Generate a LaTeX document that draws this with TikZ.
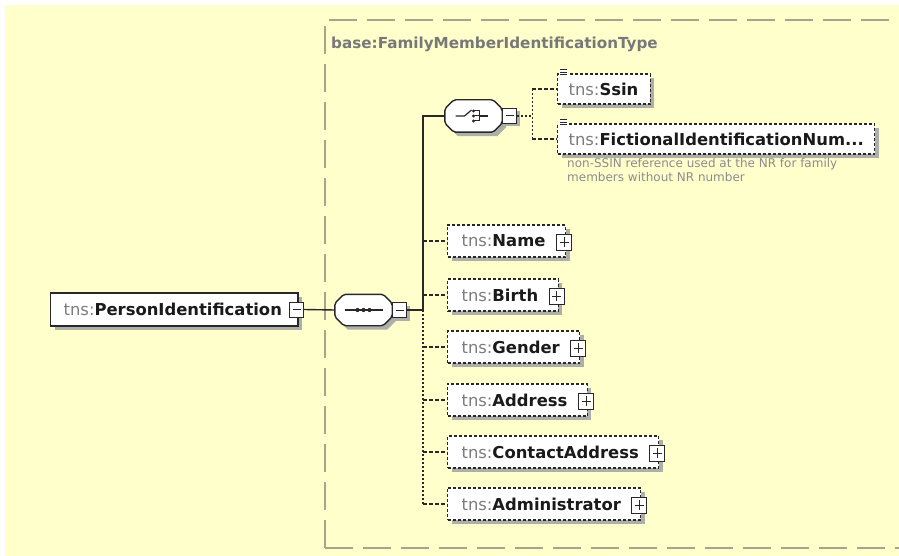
\documentclass[tikz,border=0pt]{standalone}
\usepackage{fontspec}
\setmainfont{DejaVu Sans}
\usetikzlibrary{calc,shadows}

\definecolor{bgc}{RGB}{255,255,204}
\definecolor{framec}{RGB}{165,165,140}
\definecolor{titlec}{RGB}{120,120,120}
\definecolor{tnsc}{RGB}{125,125,125}
\definecolor{namec}{RGB}{26,26,26}
\definecolor{linec}{RGB}{40,40,40}
\definecolor{shadc}{RGB}{175,175,170}
\definecolor{descc}{RGB}{140,140,140}

\newcommand\tns{{\mdseries\color{tnsc}tns:}}
\newcommand\octo[3]{%
 \path[#2] ([shift={#3},xshift=9pt]#1.north west) -- ([shift={#3},xshift=-9pt]#1.north east) -- ([shift={#3},yshift=-9pt]#1.north east) -- ([shift={#3},yshift=9pt]#1.south east) -- ([shift={#3},xshift=-9pt]#1.south east) -- ([shift={#3},xshift=9pt]#1.south west) -- ([shift={#3},yshift=9pt]#1.south west) -- ([shift={#3},yshift=-9pt]#1.north west) -- cycle;}

\tikzset{
 namefont/.style={font=\fontsize{16.4}{18}\selectfont\bfseries, text=namec},
 elembox/.style={namefont, draw=linec, fill=white, line width=1.2pt, dash pattern=on 3pt off 2pt,
   inner sep=0pt, minimum height=32pt, anchor=west,
   drop shadow={shadow xshift=4pt, shadow yshift=-4pt, fill=shadc, opacity=1}},
 pibox/.style={namefont, draw=linec, fill=white, line width=1.3pt,
   inner sep=0pt, minimum height=33pt, anchor=west,
   drop shadow={shadow xshift=4pt, shadow yshift=-4pt, fill=shadc, opacity=1}},
 compnode/.style={inner sep=0pt},
 plusbox/.style={draw=linec, fill=white, line width=1pt, minimum width=15pt, minimum height=16pt, inner sep=0pt,
   path picture={\draw[linec, line width=1pt] ([xshift=3pt]path picture bounding box.west) -- ([xshift=-3pt]path picture bounding box.east)
     ([yshift=-3pt]path picture bounding box.north) -- ([yshift=3pt]path picture bounding box.south);}},
 minusbox/.style={draw=linec, fill=white, line width=1pt, minimum width=14pt, minimum height=15pt, inner sep=0pt,
   path picture={\draw[linec, line width=1pt] ([xshift=3pt]path picture bounding box.west) -- ([xshift=-3pt]path picture bounding box.east);}},
 solidc/.style={draw=linec, line width=1.4pt},
 dashc/.style={draw=linec, line width=1.2pt, dash pattern=on 3.5pt off 2.5pt},
 dotc/.style={draw=linec, line width=1.2pt, dash pattern=on 2pt off 2pt},
 framestyle/.style={draw=framec, line width=2pt, dash pattern=on 28pt off 10pt},
}

\begin{document}
\begin{tikzpicture}[x=1pt,y=-1pt]
\useasboundingbox (0,0) rectangle (899,556);
\fill[bgc] (5,5) rectangle (899,556);

% frame
\draw[framestyle] (325,548) -- (325,20) -- (920,20);
\draw[framestyle] (325,548) -- (920,548);
\node[anchor=west, inner sep=0pt, font=\fontsize{15.2}{18}\selectfont\bfseries, text=titlec] (title) at (331,44) {base:FamilyMemberIdentificationType};

% root element
\node[pibox] (pi) at (50,309.5) {\hspace*{13pt}\tns PersonIdentification\hspace*{16pt}};
\node[minusbox] (pim) at ([xshift=-2pt]pi.east) {};

% sequence compositor
\node[compnode, minimum width=57pt, minimum height=31pt] (seq) at (363.5,310) {};
\octo{seq}{fill=shadc}{(4pt,-4pt)}
\octo{seq}{draw=linec, fill=white, line width=1.4pt, rounded corners=2pt}{(0pt,0pt)}
\draw[linec, line width=1.2pt] ([xshift=-19pt]seq.center) -- ([xshift=19pt]seq.center);
\foreach \d in {-6,0,6} \fill[linec] ([xshift=\d pt]seq.center) circle (2.1pt);
\node[minusbox, drop shadow={shadow xshift=3pt, shadow yshift=-3pt, fill=shadc, opacity=1}] (seqm) at ([xshift=7.5pt]seq.east) {};

% choice compositor
\node[compnode, minimum width=57pt, minimum height=32pt] (ch) at (473.5,116) {};
\octo{ch}{fill=shadc}{(4pt,-4pt)}
\octo{ch}{draw=linec, fill=white, line width=1.4pt, rounded corners=2pt}{(0pt,0pt)}
\draw[linec, line width=1.2pt] ([xshift=-18pt]ch.center) -- ([xshift=-9pt]ch.center) -- ([xshift=-2pt,yshift=6pt]ch.center);
\foreach \d in {-5,0,5} {
  \fill[linec] ([yshift=\d pt]ch.center) circle (1.7pt);
  \draw[linec, line width=1pt] ([yshift=\d pt]ch.center) -- ([xshift=6pt,yshift=\d pt]ch.center);
}
\draw[linec, line width=1pt] ([xshift=6pt,yshift=5pt]ch.center) -- ([xshift=6pt,yshift=-5pt]ch.center);
\draw[linec, line width=1.2pt] ([xshift=6pt]ch.center) -- ([xshift=14pt]ch.center);
\node[minusbox, drop shadow={shadow xshift=3pt, shadow yshift=-3pt, fill=shadc, opacity=1}] (chm) at ([xshift=7.5pt]ch.east) {};

% choice children
\node[elembox, minimum height=30pt] (ssin) at (557,89) {\hspace*{11pt}\tns Ssin\hspace*{12pt}};
\node[elembox, minimum height=30pt] (fict) at (557,139) {\hspace*{11pt}\tns FictionalIdentificationNum...\hspace*{11pt}};
\foreach \n in {ssin,fict} {
  \fill[white] ([xshift=2pt,yshift=4pt]\n.north west) rectangle ([xshift=11pt,yshift=-3pt]\n.north west);
  \foreach \s in {3.5,1,-1.5}
    \draw[linec, line width=0.8pt] ([xshift=3pt,yshift=\s pt]\n.north west) -- ([xshift=10pt,yshift=\s pt]\n.north west);
}
\node[anchor=north west, inner sep=0pt, align=left, font=\fontsize{12}{14}\selectfont, text=descc] (desc) at (567,158)
  {non-SSIN reference used at the NR for family\\members without NR number};

% sequence children
\node[elembox] (name) at (447,241) {\hspace*{14pt}\tns Name\hspace*{20pt}};
\node[elembox] (birth) at (447,295) {\hspace*{14pt}\tns Birth\hspace*{20pt}};
\node[elembox] (gender) at (447,347) {\hspace*{14pt}\tns Gender\hspace*{20pt}};
\node[elembox] (addr) at (447,400) {\hspace*{14pt}\tns Address\hspace*{20pt}};
\node[elembox] (caddr) at (447,452) {\hspace*{14pt}\tns ContactAddress\hspace*{20pt}};
\node[elembox] (admin) at (447,504) {\hspace*{14pt}\tns Administrator\hspace*{20pt}};
\foreach \n in {name,birth,gender,addr,caddr,admin}
  \node[plusbox] (\n p) at ([xshift=-2pt,yshift=-1pt]\n.east) {};

% connectors
\coordinate (vmid) at (423,310);
\coordinate (vbot) at (423,504);
\draw[solidc] (pim.east) -- (seq.west);
\draw[solidc] (seqm.east) -- (vmid);
\draw[solidc] (ch.west) -| (vmid);
\draw[dotc] (vmid) -- (vbot);
\foreach \n in {name,birth,gender,addr,caddr,admin}
  \draw[dashc] (\n.west -| vmid) -- (\n.west);
\coordinate (cj) at ([xshift=15pt]chm.east);
\draw[dotc] (chm.east) -- (cj);
\draw[dotc] (ssin.west -| cj) -- (fict.west -| cj);
\draw[dashc] (ssin.west -| cj) -- (ssin.west);
\draw[dashc] (fict.west -| cj) -- (fict.west);
\end{tikzpicture}
\end{document}
